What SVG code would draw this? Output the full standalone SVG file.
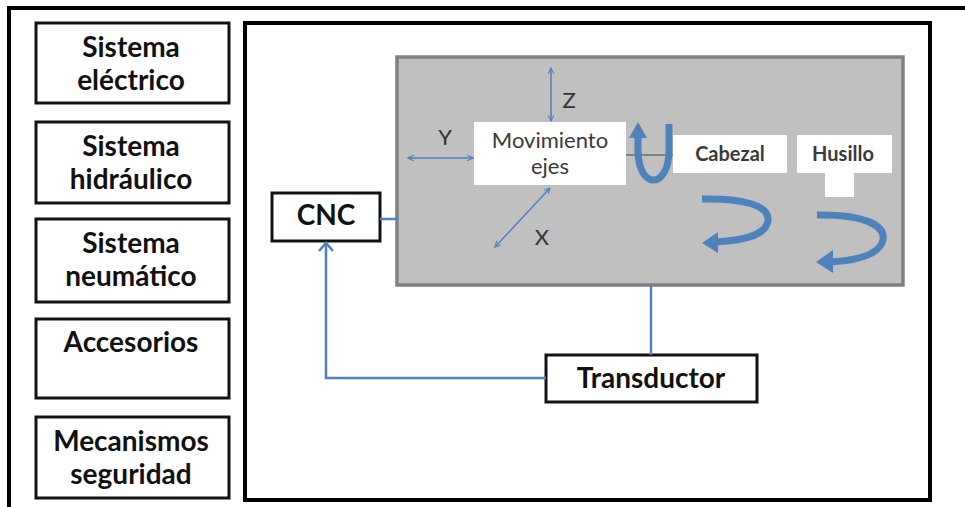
<svg xmlns="http://www.w3.org/2000/svg" width="965" height="507" viewBox="0 0 965 507">
  <defs>
    <style>
      .frame { fill: none; stroke: #000; stroke-width: 4; }
      .box { fill: #fff; stroke: #111; stroke-width: 3; }
      .side { font-family: Lato, "Liberation Sans", sans-serif; font-weight: bold; font-size: 28px; fill: #111; text-anchor: middle; }
      .lbl { font-family: Lato, "Liberation Sans", sans-serif; font-size: 22px; fill: #3a3a3a; text-anchor: middle; }
      .part { font-family: Lato, "Liberation Sans", sans-serif; font-weight: bold; font-size: 20px; fill: #3a3a3a; text-anchor: middle; }
      .axis { font-family: Lato, "Liberation Sans", sans-serif; font-size: 22px; fill: #333; text-anchor: middle; }
      .link { fill: none; stroke: #4f81bd; stroke-width: 2.5; }
      .ax { fill: none; stroke: #4f81bd; stroke-width: 1.5; marker-start: url(#tip); marker-end: url(#tip); }
      .rot { fill: none; stroke: #4f81bd; stroke-width: 7; }
      .head { fill: #4f81bd; }
    </style>
    <marker id="tip" viewBox="0 0 10 10" refX="9" refY="5" markerWidth="7" markerHeight="7" orient="auto-start-reverse" markerUnits="userSpaceOnUse">
      <path d="M1,1 L9,5 L1,9" fill="none" stroke="#4f81bd" stroke-width="1.6"/>
    </marker>
  </defs>

  <!-- page frame -->
  <path d="M9,507 V8 H965" class="frame"/>

  <!-- left column of subsystems -->
  <g id="sistema-electrico">
    <rect x="36" y="23" width="193" height="80" class="box"/>
    <text x="131" y="57" class="side">Sistema</text>
    <text x="131" y="90" class="side">eléctrico</text>
  </g>
  <g id="sistema-hidraulico">
    <rect x="36" y="122" width="193" height="81" class="box"/>
    <text x="131" y="156" class="side">Sistema</text>
    <text x="131" y="189" class="side">hidráulico</text>
  </g>
  <g id="sistema-neumatico">
    <rect x="36" y="219" width="193" height="83" class="box"/>
    <text x="131" y="253" class="side">Sistema</text>
    <text x="131" y="286" class="side">neumático</text>
  </g>
  <g id="accesorios">
    <rect x="36" y="319" width="193" height="79" class="box"/>
    <text x="131" y="352" class="side">Accesorios</text>
  </g>
  <g id="mecanismos-seguridad">
    <rect x="36" y="417" width="193" height="81" class="box"/>
    <text x="131" y="451" class="side">Mecanismos</text>
    <text x="131" y="484" class="side">seguridad</text>
  </g>

  <!-- machine enclosure -->
  <g id="maquina">
    <rect x="245" y="23" width="685" height="477" class="frame"/>
  </g>

  <!-- machining unit -->
  <g id="unidad">
    <rect x="397" y="57" width="506" height="228" fill="#c0c0c0" stroke="#808080" stroke-width="3.5"/>
  </g>

  <g id="movimiento-ejes">
    <rect x="474" y="122" width="152" height="63" fill="#fff"/>
    <text x="550" y="148" class="lbl">Movimiento</text>
    <text x="550" y="174" class="lbl">ejes</text>
  </g>

  <g id="ejes">
    <line x1="551" y1="68" x2="551" y2="121" class="ax"/>
    <text x="569" y="108" class="axis">Z</text>
    <line x1="408" y1="158" x2="473" y2="158" class="ax"/>
    <text x="445" y="145" class="axis">Y</text>
    <line x1="495" y1="247" x2="550" y2="188" class="ax"/>
    <text x="542" y="245" class="axis">X</text>
  </g>

  <g id="cabezal">
    <rect x="673" y="135" width="114" height="38" fill="#fff"/>
    <text x="730" y="161" class="part">Cabezal</text>
  </g>

  <g id="husillo">
    <rect x="797" y="135" width="95" height="38" fill="#fff"/>
    <rect x="825" y="172" width="29" height="25" fill="#fff"/>
    <text x="843" y="161" class="part">Husillo</text>
  </g>

  <!-- rotation symbols -->
  <g id="giros">
    <line x1="626" y1="155" x2="673" y2="155" stroke="#404040" stroke-width="1.2"/>
    <path d="M669,124 V150 C669,190 638,190 638,150 V134" class="rot"/>
    <polygon points="638,122 629,138 647,138" class="head"/>

    <path d="M702,199 C745,198 770,206 768,221 C766,234 748,240 716,242" class="rot" stroke="#3f70a8"/>
    <polygon points="702,243 718,232 718,253" class="head"/>

    <path d="M817,215 C860,214 886,224 883,240 C880,253 862,260 831,262" class="rot" stroke="#3f70a8"/>
    <polygon points="816,262 833,250 833,273" class="head"/>
  </g>

  <g id="cnc">
    <rect x="272" y="193" width="108" height="48" class="box"/>
    <text x="326" y="225" font-size="24" class="side">CNC</text>
  </g>

  <g id="transductor">
    <rect x="546" y="355" width="211" height="47" class="box"/>
    <text x="651" y="388" class="side">Transductor</text>
  </g>

  <!-- signal connectors -->
  <g id="conectores">
    <line x1="380" y1="219" x2="397" y2="219" class="link"/>
    <line x1="651" y1="286" x2="651" y2="355" class="link"/>
    <path d="M546,378 H326 V244" class="link"/>
    <path d="M319,251 L326,243 L333,251" class="link"/>
  </g>
</svg>
